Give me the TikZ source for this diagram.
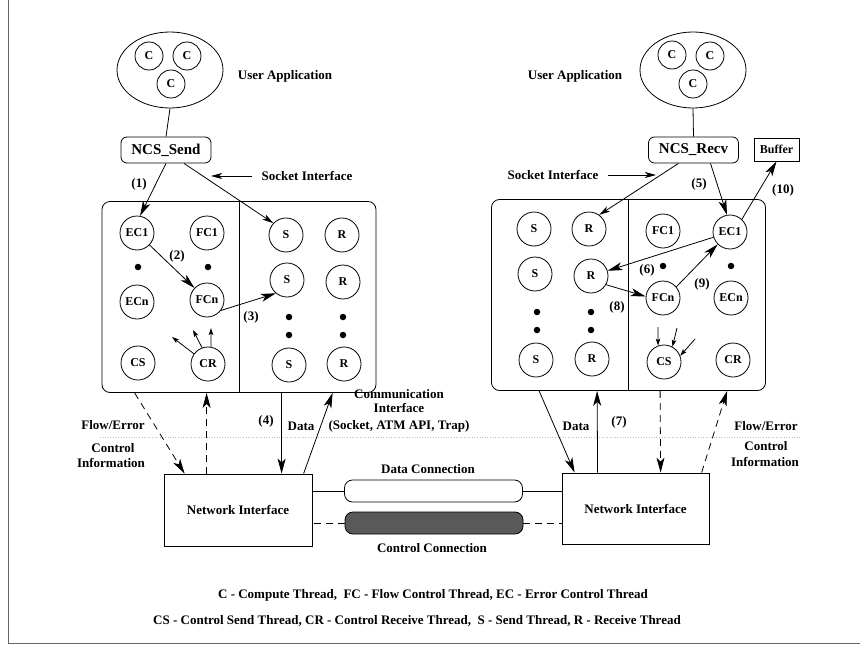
\documentclass[tikz,border=0pt]{standalone}
\usepackage{fontspec}
\setmainfont{Liberation Serif}
\usetikzlibrary{arrows.meta,shapes.geometric,calc}
\begin{document}
\begin{tikzpicture}[x=1pt,y=-1pt,line width=0.8pt,
 th/.style={circle,draw,minimum size=34pt,inner sep=0pt,font=\fontsize{12}{12}\selectfont\bfseries},
 cth/.style={circle,draw,minimum size=28pt,inner sep=0pt,font=\fontsize{12}{12}\selectfont\bfseries},
 blob/.style={circle,fill,minimum size=6.5pt,inner sep=0pt},
 lbl/.style={font=\fontsize{13}{15}\selectfont\bfseries,inner sep=0pt},
 arr/.style={-{Stealth[length=15pt,width=8pt,inset=4pt]}},
 marr/.style={-{Stealth[length=11pt,width=6pt,inset=3pt]}},
 sarr/.style={-{Stealth[length=7pt,width=4.5pt,inset=1.5pt]}},
 dsh/.style={dash pattern=on 7pt off 5pt},
 api/.style={draw,rounded corners=6pt,minimum width=90pt,minimum height=26pt,inner sep=0pt,font=\fontsize{15}{15}\selectfont\bfseries},
 app/.style={ellipse,draw,minimum width=106pt,minimum height=76pt,inner sep=0pt},
 bigbox/.style={draw,rounded corners=8pt,minimum width=274pt,minimum height=191pt,inner sep=0pt},
 nibox/.style={draw,minimum width=148pt,minimum height=72pt,inner sep=0pt,font=\fontsize{13}{15}\selectfont\bfseries},
 conn/.style={draw,rounded corners=8pt,minimum width=178pt,minimum height=22pt,inner sep=0pt}
]
\useasboundingbox (0,0) rectangle (860,653);
\draw[black!60,line width=0.7pt] (8,0) -- (8,643) -- (860,643);
\draw[black!25,line width=0.6pt,dotted] (100,437) -- (800,437);

% ---------------- left side ----------------
\node[app] (appl) at (170,70) {};
\node[cth] (cl1) at (149,56) {C};
\node[cth] (cl2) at (187,56) {C};
\node[cth] (cl3) at (171,84) {C};
\node[lbl] (ual) at (285,76) {User Application};
\node[api] (nsend) at (166,150) {NCS\_Send};
\draw (appl.south) -- (nsend.north);
\node[lbl] (sil) at (307,176) {Socket Interface};
\coordinate (sila) at (211,176);
\draw[marr] (sil.west) ++(-9,0) -- (sila);

\node[bigbox] (boxl) at (239,297) {};
\draw (boxl.north) -- (boxl.south);
\node[th] (ec1l) at (137,233) {EC1};
\node[th] (fc1l) at (207,233) {FC1};
\node[blob] (dl1) at (138,267) {};
\node[blob] (dl2) at (208,267) {};
\node[th] (ecnl) at (137,302) {ECn};
\node[th] (fcnl) at (207,300) {FCn};
\node[th] (csl) at (138,363) {CS};
\node[th] (crl) at (208,364) {CR};
\node[th] (s1l) at (286,235) {S};
\node[th] (r1l) at (342,235) {R};
\node[th] (s2l) at (287,280) {S};
\node[th] (r2l) at (343,282) {R};
\node[blob] at (289,317) {};
\node[blob] at (289,335) {};
\node[blob] at (343,317) {};
\node[blob] at (343,335) {};
\node[th] (s3l) at (289,365) {S};
\node[th] (r3l) at (344,364) {R};

\draw[arr] (nsend.south) -- (ec1l.80);
\node[lbl] at (139,184) {(1)};
\draw[marr] ([xshift=18pt]nsend.south) -- (s1l.137);
\draw[arr] (ec1l) -- (fcnl);
\node[lbl] at (177,256) {(2)};
\draw[arr] (fcnl.-37) -- (s2l.230);
\node[lbl] at (251,317) {(3)};
\coordinate (cra1) at (172,337);
\coordinate (cra2) at (193,330);
\coordinate (cra3) at (211,328);
\draw[sarr] (crl.144) -- (cra1);
\draw[sarr] (crl.110) -- (cra2);
\draw[sarr] (crl.80) -- (cra3);

\node[nibox] (nil) at (238,510) {Network Interface};
\draw[arr,dsh] ([xshift=33pt]boxl.south west) -- ([xshift=21pt]nil.north west);
\draw[arr,dsh] ([xshift=43pt]nil.north west) -- ([xshift=105pt]boxl.south west);
\draw[arr] ([xshift=180pt]boxl.south west) -- ([xshift=118pt]nil.north west);
\draw[arr] ([xshift=140pt]nil.north west) -- ([xshift=231pt]boxl.south west);
\node[lbl] at (266,421) {(4)};
\node[lbl] at (301,426) {Data};
\node[lbl] at (113,425) {Flow/Error};
\node[lbl] at (113,448) {Control};
\node[lbl] at (111,463) {Information};

% ---------------- middle ----------------
\node[lbl] at (399,394) {Communication};
\node[lbl] at (399,408) {Interface};
\node[lbl] at (399,426) {(Socket, ATM API, Trap)};
\node[conn,fill=white] (dconn) at (433.5,491) {};
\node[conn,fill=black!65] (cconn) at (434,523) {};
\node[lbl] at (428,469) {Data Connection};
\node[lbl] at (432,548) {Control Connection};

% ---------------- right side ----------------
\node[app] (appr) at (693,70) {};
\node[cth] (cr1) at (672,55) {C};
\node[cth] (cr2) at (710,56) {C};
\node[cth] (cr3) at (693,84) {C};
\node[lbl] (uar) at (575,76) {User Application};
\node[api] (nrecv) at (693.5,150) {NCS\_Recv};
\draw (appr.south) -- (nrecv.north);
\node[draw,minimum width=45pt,minimum height=23pt,inner sep=0pt,font=\fontsize{12}{12}\selectfont\bfseries] (buf) at (776.5,149.5) {Buffer};
\node[lbl] (sir) at (553,175) {Socket Interface};
\coordinate (sira) at (656,175);
\draw[marr] (sir.east) ++(9,0) -- (sira);

\node[bigbox] (boxr) at (628.5,295) {};
\draw (boxr.north) -- (boxr.south);
\node[th] (s1r) at (534,229) {S};
\node[th] (r1r) at (589,229) {R};
\node[th] (s2r) at (535,274) {S};
\node[th] (r2r) at (591,276) {R};
\node[blob] at (537,312) {};
\node[blob] at (537,330) {};
\node[blob] at (591,312) {};
\node[blob] at (591,330) {};
\node[th] (s3r) at (536,360) {S};
\node[th] (r3r) at (592,359) {R};
\node[th] (fc1r) at (663,231) {FC1};
\node[th] (ec1r) at (730,232) {EC1};
\node[blob] at (663,266) {};
\node[blob] at (731,266) {};
\node[th] (fcnr) at (663,298) {FCn};
\node[th] (ecnr) at (731,298) {ECn};
\node[th] (csr) at (664,362) {CS};
\node[th] (crr) at (733,360) {CR};

\draw[arr] ([xshift=17pt]nrecv.south) -- (ec1r.100);
\node[lbl] at (699,184) {(5)};
\draw[marr] ([xshift=-15pt]nrecv.south) -- (r1r.54);
\draw[arr] (ec1r.47) -- (buf.south);
\node[lbl] at (783,190) {(10)};
\draw[arr] (ec1r) -- (r2r);
\node[lbl] at (647,270) {(6)};
\draw[arr] (r2r.-30) -- (fcnr.175);
\node[lbl] at (617,307) {(8)};
\draw[arr] (fcnr.40) -- (ec1r.225);
\node[lbl] at (702,284) {(9)};
\coordinate (csa1) at (658,327);
\coordinate (csa2) at (677,328);
\coordinate (csa3) at (695,339);
\draw[sarr] (csa1) -- (csr.110);
\draw[sarr] (csa2) -- (csr.61);
\draw[sarr] (csa3) -- (csr.21);

\node[nibox,minimum width=147pt,minimum height=71pt] (nir) at (635.5,508.5) {Network Interface};
\draw[arr] ([xshift=48pt]boxr.south west) -- ([xshift=13pt]nir.north west);
\draw[arr] ([xshift=36pt]nir.north west) -- ([xshift=106pt]boxr.south west);
\draw[arr,dsh] ([xshift=169pt]boxr.south west) -- ([xshift=99pt]nir.north west);
\draw[arr,dsh] ([xshift=140pt]nir.north west) -- ([xshift=236pt]boxr.south west);
\node[lbl] at (576,426) {Data};
\node[lbl] at (619,422) {(7)};
\node[lbl] at (766,426) {Flow/Error};
\node[lbl] at (766,446) {Control};
\node[lbl] at (765,462) {Information};

% connections
\draw (dconn.west) -- (dconn.west -| nil.east);
\draw[dsh] (cconn.west) -- (cconn.west -| nil.east);
\draw (dconn.east) -- (dconn.east -| nir.west);
\draw[dsh] (cconn.east) -- (cconn.east -| nir.west);

% legend
\node[lbl] at (433,595) {C - Compute Thread,~ FC - Flow Control Thread, EC - Error Control Thread};
\node[lbl] at (417,621) {CS - Control Send Thread, CR - Control Receive Thread,~ S - Send Thread, R - Receive Thread};
\end{tikzpicture}
\end{document}
